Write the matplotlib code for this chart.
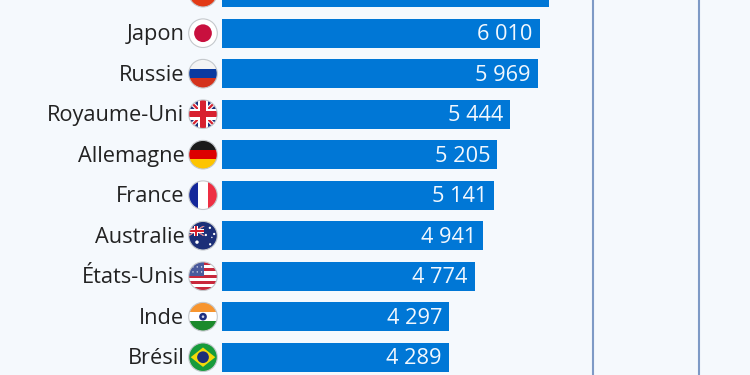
import matplotlib
matplotlib.use("Agg")
import matplotlib.pyplot as plt
from matplotlib.patches import Circle, Rectangle, Polygon
from matplotlib.transforms import Affine2D

# data
countries = ['Chine', 'Japon', 'Russie', 'Royaume-Uni', 'Allemagne', 'France',
             'Australie', 'États-Unis', 'Inde', 'Brésil']
values = [6180, 6010, 5969, 5444, 5205, 5141, 4941, 4774, 4297, 4289]
value_labels = ['6 180', '6 010', '5 969', '5 444', '5 205', '5 141', '4 941',
                '4 774', '4 297', '4 289']
grid_values = [7000, 9000]

BG = '#f5f9fd'
BAR = '#0077d6'
LINE = '#7e9ac6'
TEXT = '#222222'
NAVY = '#1c2f78'
RED = '#d8212f'


def stripes_h(colors):
    n = len(colors)
    return [Rectangle((-1, -1 + 2 * k / n), 2, 2 / n, fc=c, ec='none')
            for k, c in enumerate(colors)]


def stripes_v(colors):
    n = len(colors)
    return [Rectangle((-1 + 2 * k / n, -1), 2 / n, 2, fc=c, ec='none')
            for k, c in enumerate(colors)]


def union_jack(x0, y0, w, h):
    # x0, y0 is the upper left corner
    x1, y1 = x0 + w, y0 + h
    xc, yc = x0 + w / 2, y0 + h / 2
    t = h * 0.11
    diagonals = [((x0, y0), (x1, y1)), ((x0, y1), (x1, y0))]
    out = [Rectangle((x0, y0), w, h, fc=NAVY, ec='none')]
    for (ax_, ay), (bx, by) in diagonals:
        out.append(Polygon([(ax_ - t, ay), (ax_ + t, ay), (bx + t, by), (bx - t, by)], fc='white', ec='none'))
    for (ax_, ay), (bx, by) in diagonals:
        s = t * 0.5
        out.append(Polygon([(ax_ - s, ay), (ax_ + s, ay), (bx + s, by), (bx - s, by)], fc=RED, ec='none'))
    out.append(Rectangle((xc - 1.7 * t, y0), 3.4 * t, h, fc='white', ec='none'))
    out.append(Rectangle((x0, yc - 1.7 * t), w, 3.4 * t, fc='white', ec='none'))
    out.append(Rectangle((xc - t, y0), 2 * t, h, fc=RED, ec='none'))
    out.append(Rectangle((x0, yc - t), w, 2 * t, fc=RED, ec='none'))
    return out


def flag_parts(name):
    if name == 'Chine':
        return [Rectangle((-1, -1), 2, 2, fc='#e23a16', ec='none')]
    if name == 'Japon':
        return [Rectangle((-1, -1), 2, 2, fc='white', ec='none'),
                Circle((0, 0), 0.62, fc='#c8103e', ec='none')]
    if name == 'Russie':
        return stripes_h(['#f4f4f4', '#0a3aa0', '#d4321c'])
    if name == 'Royaume-Uni':
        return union_jack(-1, -1, 2, 2)
    if name == 'Allemagne':
        return stripes_h(['#1a1a1a', '#dd0000', '#fdc400'])
    if name == 'France':
        return stripes_v(['#14279a', '#ffffff', '#ee2f43'])
    if name == 'Australie':
        parts = [Rectangle((-1, -1), 2, 2, fc=NAVY, ec='none')]
        parts += union_jack(-1, -0.68, 1.05, 0.68)
        for x, y, r in [(-0.42, 0.45, 0.12), (0.48, -0.55, 0.08), (0.78, -0.12, 0.08),
                        (0.2, -0.05, 0.08), (0.5, 0.6, 0.08), (0.62, 0.12, 0.05)]:
            parts.append(Circle((x, y), r, fc='white', ec='none'))
        return parts
    if name == 'États-Unis':
        parts = stripes_h(['#c8283c', '#ffffff'] * 4 + ['#c8283c'])
        parts.append(Rectangle((-1, -1), 1.05, 1.0, fc='#4a5a9c', ec='none'))
        for x, y in [(-0.7, -0.65), (-0.4, -0.65), (-0.1, -0.65), (-0.7, -0.3),
                     (-0.4, -0.3), (-0.1, -0.3)]:
            parts.append(Circle((x, y), 0.05, fc='#dfe3f0', ec='none'))
        return parts
    if name == 'Inde':
        parts = stripes_h(['#f7952f', '#ffffff', '#1c8a2c'])
        parts.append(Circle((0, 0), 0.27, fc='#1f2f80', ec='none'))
        parts.append(Circle((0, 0), 0.09, fc='#c9d0e8', ec='none'))
        return parts
    if name == 'Brésil':
        return [Rectangle((-1, -1), 2, 2, fc='#169b3c', ec='none'),
                Polygon([(-0.86, 0), (0, -0.68), (0.86, 0), (0, 0.68)], fc='#f4d90a', ec='none'),
                Circle((0, 0), 0.41, fc='#1c2f78', ec='none')]
    return []


def draw_flag(ax, name, cx, cy, r):
    tr = Affine2D().scale(r).translate(cx, cy) + ax.transData
    clip = Circle((0, 0), 1, transform=tr, fc='none', ec='none')
    ax.add_patch(clip)
    for p in flag_parts(name):
        p.set_transform(tr)
        ax.add_patch(p)
        p.set_clip_path(clip)
    ax.add_patch(Circle((0, 0), 1, transform=tr, fc='none', ec='#c4c8cc', lw=0.8))


def main():
    plt.rcParams['font.family'] = ['Open Sans', 'DejaVu Sans']
    fig = plt.figure(figsize=(7.5, 3.75), dpi=100, facecolor=BG)

    # bars: 0 sits at 221.5 px, 0.053 px per unit, rows 40.5 px apart
    ax = fig.add_axes([221.5 / 750, 0, 528.5 / 750, 1], facecolor=BG)
    ypos = list(range(len(values)))
    ax.barh(ypos, values, height=0.72, color=BAR, zorder=3)
    ax.set_xlim(0, 528.5 / 0.053)
    ax.set_ylim((375 + 7.3) / 40.5, 7.3 / 40.5)
    ax.set_xticks(grid_values)
    ax.set_yticks([])
    ax.tick_params(length=0, labelbottom=False)
    ax.grid(axis='x', color=LINE, lw=1.5, zorder=1)
    for s in ax.spines.values():
        s.set_visible(False)

    for i, (name, val, lab) in enumerate(zip(countries, values, value_labels)):
        ax.annotate(lab, (val, i), xytext=(-5.2, -1.0), textcoords='offset points',
                    ha='right', va='center', color='#f2f8fe', fontsize=15.7)
        # the first row's name is above the picture's top edge
        if i > 0:
            ax.annotate(name, (0, i), xytext=(-26.7, -1.0), textcoords='offset points',
                        ha='right', va='center', color=TEXT, fontsize=15.7,
                        annotation_clip=False)

    # flags on a second axes in pixel units
    ov = fig.add_axes([0, 0, 1, 1], facecolor='none')
    ov.set_xlim(0, 750)
    ov.set_ylim(375, 0)
    ov.axis('off')
    for i, name in enumerate(countries):
        draw_flag(ov, name, 203, -7.3 + 40.5 * i, 14.3)

    fig.savefig('out.png', dpi=100, facecolor=BG)


if __name__ == "__main__":
    main()
